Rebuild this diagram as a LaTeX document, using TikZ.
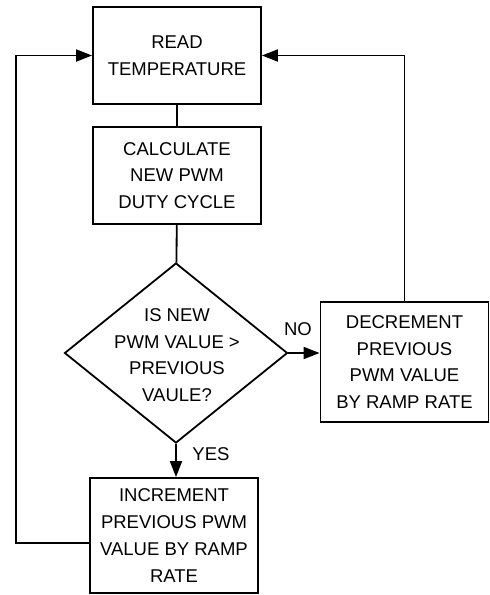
\documentclass[tikz,border=0pt]{standalone}
\usepackage{fontspec}
\setmainfont{Liberation Sans}
\usetikzlibrary{arrows.meta,shapes.geometric}
\begin{document}
\begin{tikzpicture}[x=1pt,y=-1pt,
 box/.style={draw, line width=1.8pt, align=center, inner sep=0pt},
 txt/.style={font=\fontsize{18.5}{26.7}\selectfont, align=center, inner sep=0pt},
 conn/.style={line width=1.8pt},
 arr/.style={line width=1.8pt, -{Triangle[length=16pt,width=12pt]}}
]
\useasboundingbox (0,0) rectangle (490,595);
\node[box,txt,minimum width=168pt,minimum height=97pt] (read) at (177,55.5) {READ\\TEMPERATURE};
\node[box,txt,minimum width=168pt,minimum height=97pt] (calc) at (177,175.5) {CALCULATE\\NEW PWM\\DUTY CYCLE};
\node[diamond, draw, line width=1.8pt, inner sep=0pt, minimum width=223pt, minimum height=180pt] (dia) at (176,353) {};
\node[txt] (diatext) at (177,355) {IS NEW\\PWM VALUE >\\PREVIOUS\\VAULE?};
\node[box,txt,minimum width=168pt,minimum height=120pt] (dec) at (404.5,362) {DECREMENT\\PREVIOUS\\PWM VALUE\\BY RAMP RATE};
\node[box,txt,minimum width=168pt,minimum height=115pt] (inc) at (174,535.5) {INCREMENT\\PREVIOUS PWM\\VALUE BY RAMP\\RATE};
\node[txt] (no) at (298,329) {NO};
\node[txt] (yes) at (211,454) {YES};
\coordinate (lbot) at (16,543);
\coordinate (ltop) at (16,55.5);
\coordinate (rtop) at (404.5,55.5);
\draw[conn] (read) -- (calc);
\draw[conn] (calc) -- (dia);
\draw[arr] (dia.east) -- (dia.east -| dec.west);
\draw[arr] (dia.south) -- (dia.south |- inc.north);
\draw[arr] (inc.west |- lbot) -- (lbot) -- (ltop) -- (read.west);
\draw[arr] (dec.north) -- (rtop) -- (read.east);
\end{tikzpicture}
\end{document}
